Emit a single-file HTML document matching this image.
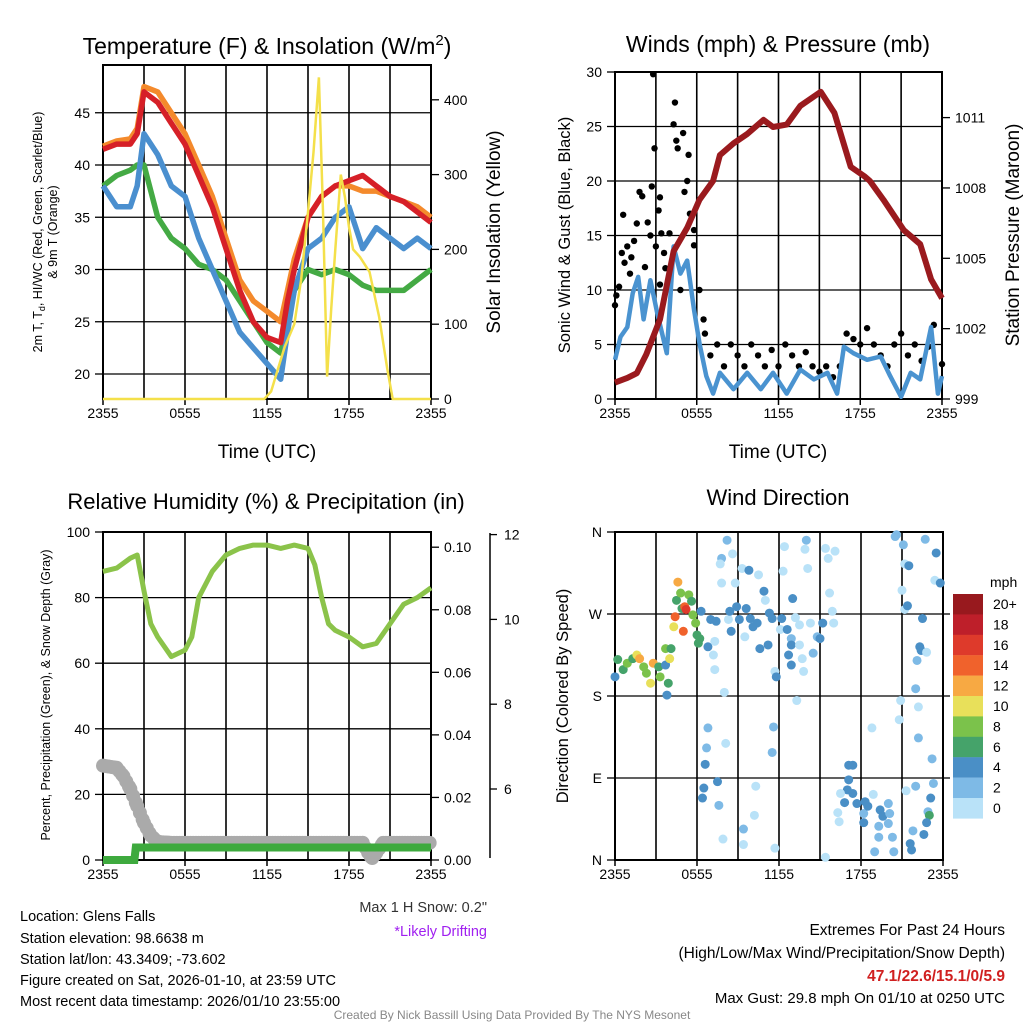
<!DOCTYPE html>
<html><head><meta charset="utf-8"><style>
html,body{margin:0;padding:0;background:#fff;}
svg{display:block;font-family:"Liberation Sans",Arial,sans-serif;}
</style></head><body>
<svg id="fig" width="1024" height="1024" viewBox="0 0 1024 1024" xmlns="http://www.w3.org/2000/svg">
<rect width="1024" height="1024" fill="#fff"/>
<g id="p1"></g>
<g id="p2"></g>
<g id="p3"></g>
<g id="p4"></g>
<g id="txt">
<text x="267" y="54" font-size="23" text-anchor="middle">Temperature (F) &amp; Insolation (W/m<tspan dy="-9" font-size="15">2</tspan><tspan dy="9">)</tspan></text>
<text x="778" y="52" font-size="23" text-anchor="middle">Winds (mph) &amp; Pressure (mb)</text>
<text x="266" y="509" font-size="22" text-anchor="middle">Relative Humidity (%) &amp; Precipitation (in)</text>
<text x="778" y="505" font-size="22" text-anchor="middle">Wind Direction</text>
<text x="267" y="458" font-size="19" text-anchor="middle">Time (UTC)</text>
<text x="778" y="458" font-size="19" text-anchor="middle">Time (UTC)</text>
<text transform="translate(42,232) rotate(-90)" font-size="12.5" text-anchor="middle">2m T, T<tspan font-size="9" dy="3">d</tspan><tspan dy="-3">, HI/WC (Red, Green, Scarlet/Blue)</tspan></text>
<text transform="translate(57,232) rotate(-90)" font-size="12.5" text-anchor="middle">&amp; 9m T (Orange)</text>
<text transform="translate(500,232) rotate(-90)" font-size="19" text-anchor="middle">Solar Insolation (Yellow)</text>
<text transform="translate(570,235) rotate(-90)" font-size="16.5" text-anchor="middle">Sonic Wind &amp; Gust (Blue, Black)</text>
<text transform="translate(1019,235) rotate(-90)" font-size="19" text-anchor="middle">Station Pressure (Maroon)</text>
<text transform="translate(50,695) rotate(-90)" font-size="12.5" text-anchor="middle">Percent, Precipitation (Green), &amp; Snow Depth (Gray)</text>
<text transform="translate(568,696) rotate(-90)" font-size="16.5" text-anchor="middle">Direction (Colored By Speed)</text>
<text x="487" y="912" font-size="14.5" fill="#333" text-anchor="end">Max 1 H Snow: 0.2"</text>
<text x="487" y="936" font-size="14.5" fill="#a020f0" text-anchor="end">*Likely Drifting</text>
<text x="20" y="921" font-size="14.5">Location: Glens Falls</text>
<text x="20" y="943" font-size="14.5">Station elevation: 98.6638 m</text>
<text x="20" y="964" font-size="14.5">Station lat/lon: 43.3409; -73.602</text>
<text x="20" y="985" font-size="14.5">Figure created on Sat, 2026-01-10, at 23:59 UTC</text>
<text x="20" y="1006" font-size="14.5">Most recent data timestamp: 2026/01/10 23:55:00</text>
<text x="1005" y="935" font-size="15.5" text-anchor="end">Extremes For Past 24 Hours</text>
<text x="1005" y="958" font-size="15.5" text-anchor="end">(High/Low/Max Wind/Precipitation/Snow Depth)</text>
<text x="1005" y="981" font-size="15.5" font-weight="bold" fill="#d02020" text-anchor="end">47.1/22.6/15.1/0/5.9</text>
<text x="1005" y="1003" font-size="15" text-anchor="end">Max Gust: 29.8 mph On 01/10 at 0250 UTC</text>
<text x="512" y="1019" font-size="12" fill="#888" text-anchor="middle">Created By Nick Bassill Using Data Provided By The NYS Mesonet</text>
</g>
</svg>
<script>
// ---- data ----
const timeLabels = ["2355","0555","1155","1755","2355"];
const tempHours = [0,1,2,2.5,3,4,5,6,7,8,9,10,11,12,13,13.5,14,15,16,17,18,19,20,21,22,23,24];
const tempRed =    [41.5,42,42,43,47,46,44,42,39,36,32,28,25,23.5,23,27,30,35,37,38,38.5,39,38,37,36.5,35.5,34.5];
const tempOrange = [41.8,42.3,42.5,43.5,47.5,47,45,43,40,37,33,29,27,26,25,28,31,35,37,38,38,37.5,37.5,37,36.5,36,35];
const tempBlue =   [38,36,36,38,43,41,38,37,33,30,27,24,22.5,21,19.5,24,28,32,33,35,36,32,34,33,32,33,32];
const tempGreen =  [38,39,39.5,40,40,35,33,32,30.5,30,29,27,25,23,22,25,28,30,29.5,30,29.5,28.5,28,28,28,29,30];
const solarHours = [0,11.8,12.3,12.8,13.3,14,14.5,15,15.4,15.8,16.1,16.4,16.7,17,17.4,17.7,18,18.3,18.8,19.5,20.2,20.8,21.2,24];
const solarVals  = [0,0,10,40,70,100,160,250,330,430,250,30,120,200,300,270,230,200,190,170,110,40,0,0];
const presHours = [0,0.9,1.6,2.3,3.3,4.3,5.3,6.2,7.2,7.7,8.7,9.7,10.9,11.6,12.6,13.6,15.1,16.1,17.3,18.3,18.7,19.7,21.2,22.4,23.2,24];
const presVals  = [999.7,999.9,1000.1,1000.9,1002.4,1005.3,1006.3,1007.5,1008.3,1009.4,1009.9,1010.3,1010.9,1010.6,1010.7,1011.5,1012.1,1011.2,1008.9,1008.5,1008.3,1007.5,1006.2,1005.6,1004.1,1003.3];
const windHours = [0,0.4,0.9,1.3,1.7,2.1,2.6,3.1,3.8,4.3,4.8,5.3,5.8,6.2,6.7,7.2,7.7,8.7,9.7,10.7,11.6,12.6,13.6,14.6,15.6,16.3,16.8,17.5,18.5,19.5,20.2,21,21.7,22.4,23.2,23.7,24];
const windVals  = [3.6,5.7,6.6,9.7,11.2,7.3,10.9,7.9,4.2,14,11.5,12.7,8.2,5.1,2.1,0.5,2.4,0.9,2.4,0.9,2.4,0.5,2.7,1.8,2.4,0.5,4.8,4.2,3.6,3.9,2.1,0.2,2.4,1.8,6.6,0.5,2.1];
const gustHours = [2.8,2.9,4.4,4.3,4.5,4.6,5.0,5.4,5.3,5.1,2.7,1.8,0.6,1.6,3.2,3.3,5.5,5.8,5.8,0,0.3,0.5,0.9,1.2,1.1,2.2,2.4,3.4,4,3.6,3.3,6.2,6.5,6.6,0.1,0.7,1.4,2.0,2.6,3.0,3.7,4.8,7,7.5,8,8.5,9,9.5,10,10.5,11,11.5,12,12.5,13,13.5,14,14.5,15,15.5,16,16.5,17,17.5,18,18.5,19,19.5,20,20.5,21,21.5,22,22.5,23,23.4,24];
const gustVals  = [29.8,23,27.2,25.2,23.7,23,24.4,22.4,20,19,19.5,19,16.9,16.1,17.3,18.5,17,15.5,14.1,8.6,10.3,13.4,14,13,11.5,12.1,16.2,15.2,15.2,13.4,10.5,10,7.3,6,9.5,12.5,14.5,18.6,15,14,12,10,4,5,3,5,4,3,5,4,3,4.5,3,5,4,3,4.3,3,2.5,3,2,3,6,5.5,5,6.5,5,4,3,5,6,4,5,3.5,4.8,6.8,3.2];
const rhHours = [0,1,2,2.5,3,3.5,4,5,6,6.5,7,8,9,10,11,12,13,14,15,15.5,16,16.5,17,18,19,20,21,22,23,24];
const rhVals  = [88,89,92,93,82,72,68,62,64,68,80,88,93,95,96,96,95,96,95,90,80,72,70,68,65,66,72,78,80,83];
const precipHours = [0,2.3,2.4,24];
const precipVals  = [0,0,0.004,0.004];
const snowHours = [0,1,1.5,2,2.5,3,3.5,4,5,19,19.4,19.7,20,20.5,24];
const snowVals  = [6.55,6.5,6.3,6.0,5.6,5.2,4.9,4.75,4.73,4.73,4.5,4.35,4.5,4.73,4.73];
const dirHours = [0,0.2,0.6,0.9,1.3,1.6,1.8,2.1,2.3,2.6,2.8,3.2,3.3,3.7,3.8,3.7,4.1,4.0,3.9,4.3,4.4,4.5,4.6,4.8,4.9,5.0,5.1,5.2,5.4,5.6,5.7,5.9,6.0,6.1,6.2,
 6.3,7.0,7.4,6.8,7.3,7.2,7.3,8.0,7.8,7.7,8.2,8.6,8.8,7.8,8.3,8.4,8.5,8.9,9.1,9.3,9.8,9.6,9.5,9.9,10.1,10.4,10.5,10.9,11.0,10.6,11.2,11.3,11.5,11.7,11.8,12.1,12.2,12.4,12.3,12.6,12.9,12.9,12.7,12.9,13.0,13.2,13.5,14.0,13.9,14.1,14.3,13.5,13.7,13.8,14.5,14.8,15.0,15.2,15.4,15.6,16.1,15.7,15.9,16.0,13.3,
 6.8,6.7,6.6,6.5,6.4,7.5,7.6,8.1,7.9,9.4,9.4,10.3,10.2,11.6,11.5,11.7,15.4,
 17.1,17.4,17.1,17.0,17.4,16.8,16.5,16.3,16.4,17.7,18.2,18.3,18.5,18.2,18.9,18.8,19.3,19.4,19.6,20.0,20.1,20.0,20.3,20.4,19.0,19.3,20.5,20.6,21.1,21.2,21.5,21.0,21.2,21.4,22.7,23.5,23.4,23.8,22.5,22.3,22.4,22.8,22.1,22.0,20.9,22.2,20.8,22.2,23.2,23.3,22.0,21.3,23.1,22.9,23.0,22.8,21.8,22.6,21.6,21.7];
const dirDeg = [201,220,209,216,221,225,221,212,205,194,216,212,201,214,181,232,232,221,194,256,267,285,305,293,276,251,278,275,291,284,269,260,247,238,243,
 273,264,262,234,240,225,209,184,331,325,351,336,304,304,264,273,251,278,264,320,318,276,245,265,256,260,313,295,285,232,236,271,265,207,201,253,265,344,317,253,243,236,225,214,287,266,258,351,341,320,260,236,221,207,227,245,243,260,342,331,339,293,273,260,175,
 145,123,105,79,68,86,60,128,23,34,17,81,49,146,118,13,3,
 104,104,88,77,73,63,73,52,42,62,51,64,59,41,72,145,37,55,48,62,51,40,25,9,9,25,355,357,346,325,323,296,275,279,352,337,307,304,265,234,230,228,219,188,175,168,154,134,111,84,81,76,68,53,49,41,32,28,18,11];
const dirSpeed = [4,6,6,8,6,10,12,8,8,10,12,6,8,4,4,8,6,10,6,10,14,6,12,8,6,14,14,16,8,6,8,8,6,6,6,
 4,4,4,4,0.5,0.5,0.5,0.5,2,0.5,2,0.5,0.5,0.5,0.5,4,4,4,4,0.5,4,4,0.5,4,4,4,0.5,4,0.5,4,4,4,4,0.5,4,0.5,4,0.5,0.5,4,2,4,4,4,4,0.5,0.5,2,0.5,0.5,0.5,0.5,0.5,0.5,2,2,4,4,0.5,0.5,0.5,0.5,0.5,0.5,0.5,
 2,2,4,4,4,4,2,0.5,0.5,2,0.5,0.5,0.5,2,2,0.5,0.5,
 4,4,4,4,4,4,0.5,0.5,0.5,4,2,4,4,4,0.5,0.5,2,4,4,2,2,2,2,2,2,2,2,2,2,0.5,4,0.5,0.5,4,2,4,0.5,4,4,4,4,0.5,2,2,0.5,0.5,0.5,2,2,2,2,0.5,4,2,6,4,2,4,4,4];
const cbLabels = ["20+","18","16","14","12","10","8","6","4","2","0"];
const cbColors = ["#98191e","#be1f2a","#de3a2b","#f0622c","#f7a943","#e8e05a","#7bc24b","#45a36a","#4a8fc6","#7ebae6","#b9e2f8"];

// ---- helpers ----
const NS="http://www.w3.org/2000/svg";
function mk(parent,tag,attrs){const e=document.createElementNS(NS,tag);for(const k in attrs)e.setAttribute(k,attrs[k]);parent.appendChild(e);return e;}
function speedColor(s){if(s>=20)return cbColors[0];const i=10-Math.floor(s/2);return cbColors[Math.max(0,Math.min(10,i))];}
function pathFrom(xs,ys,fx,fy){return xs.map((h,i)=>(i?"L":"M")+fx(h).toFixed(1)+","+fy(ys[i]).toFixed(1)).join("");}

function frame(g,x0,x1,y0,y1,hGrid,fy){
  for(let h=0;h<=24;h+=3){const x=x0+h*(x1-x0)/24;
    const l=mk(g,"line",{x1:x,x2:x,y1:y0,y2:y1,stroke:"#000","stroke-width":1.6});
    
    }
  hGrid.forEach(v=>{const y=fy(v);
    const l=mk(g,"line",{x1:x0,x2:x1,y1:y,y2:y,stroke:"#000","stroke-width":1.3});
    
    });
  const r=mk(g,"rect",{x:x0,y:y0,width:x1-x0,height:y1-y0,fill:"none",stroke:"#000","stroke-width":2});
  
  
  timeLabels.forEach((t,i)=>{const x=x0+i*6*(x1-x0)/24;
    mk(g,"line",{x1:x,x2:x,y1:y1,y2:y1+6,stroke:"#000","stroke-width":1.5});
    const tx=mk(g,"text",{x:x,y:y1+19,"font-size":14,"text-anchor":"middle"});tx.textContent=t;
    
    });
}
function leftTicks(g,x0,vals,fy,labels){vals.forEach((v,i)=>{const y=fy(v);
  mk(g,"line",{x1:x0-8,x2:x0,y1:y,y2:y,stroke:"#000","stroke-width":1.3});
  const t=mk(g,"text",{x:x0-13,y:y+5,"font-size":14,"text-anchor":"end"});t.textContent=labels?labels[i]:v;
  
  });}
function rightTicks(g,x1,vals,fy,labels){vals.forEach((v,i)=>{const y=fy(v);
  mk(g,"line",{x1:x1,x2:x1+8,y1:y,y2:y,stroke:"#000","stroke-width":1.3});
  const t=mk(g,"text",{x:x1+13,y:y+5,"font-size":14,"text-anchor":"start"});t.textContent=labels?labels[i]:v;
  
  });}

// ---- panel 1 ----
(function(){
  const g=document.getElementById("p1");const x0=103,x1=431,y0=65,y1=399;
  const fx=h=>x0+h*(x1-x0)/24, fy=v=>374-(v-20)*10.45, fs=w=>399-w*0.748;
  frame(g,x0,x1,y0,y1,[20,25,30,35,40,45],fy);
  leftTicks(g,x0,[20,25,30,35,40,45],fy);
  rightTicks(g,x1,[0,100,200,300,400],fs);
  const series=[[tempGreen,"#44aa44","dewpoint-line"],[tempBlue,"#4a8fcf","windchill-line"],[tempOrange,"#f48a2c","temp-9m-line"],[tempRed,"#d62028","temp-2m-line"]];
  series.forEach(s=>{const p=mk(g,"path",{d:pathFrom(tempHours,s[0],fx,fy),fill:"none",stroke:s[1],"stroke-width":5.5,"stroke-linejoin":"round"});
    
    });
  const sp=mk(g,"path",{d:pathFrom(solarHours,solarVals,fx,fs),fill:"none",stroke:"#f4e04a","stroke-width":2.5});
  
  
})();

// ---- panel 2 ----
(function(){
  const g=document.getElementById("p2");const x0=615,x1=942,y0=72,y1=399;
  const fx=h=>x0+h*(x1-x0)/24, fy=v=>399-v*10.9, fp=p=>399-(p-999)*23.45;
  frame(g,x0,x1,y0,y1,[5,10,15,20,25],fy);
  leftTicks(g,x0,[0,5,10,15,20,25,30],fy);
  rightTicks(g,x1,[999,1002,1005,1008,1011],fp);
  gustHours.forEach((h,i)=>{const c=mk(g,"circle",{cx:fx(h),cy:fy(gustVals[i]),r:3.2,fill:"#000"});
    
    });
  const w=mk(g,"path",{d:pathFrom(windHours,windVals,fx,fy),fill:"none",stroke:"#4a93d0","stroke-width":4.5,"stroke-linejoin":"round"});
  
  
  const p=mk(g,"path",{d:pathFrom(presHours,presVals,fx,fp),fill:"none",stroke:"#9a1a1e","stroke-width":6,"stroke-linejoin":"round"});
  
  
})();

// ---- panel 3 ----
(function(){
  const g=document.getElementById("p3");const x0=103,x1=431,y0=532,y1=860;
  const fx=h=>x0+h*(x1-x0)/24, fy=v=>860-v*3.28, fpr=v=>860-v*3128, fsn=s=>789-(s-6)*42.4;
  frame(g,x0,x1,y0,y1,[20,40,60,80],fy);
  leftTicks(g,x0,[0,20,40,60,80,100],fy);
  rightTicks(g,x1,[0,0.02,0.04,0.06,0.08,0.10],fpr,["0.00","0.02","0.04","0.06","0.08","0.10"]);
  const ax=mk(g,"line",{x1:490,x2:490,y1:533,y2:858,stroke:"#000","stroke-width":1.5});
  
  
  [6,8,10,12].forEach(s=>{const y=fsn(s);mk(g,"line",{x1:490,x2:497,y1:y,y2:y,stroke:"#000","stroke-width":1.3});
    const t=mk(g,"text",{x:504,y:y+5,"font-size":14});t.textContent=s;
    
    });
  for(let k=0;k<snowHours.length-1;k++){const a=snowHours[k],b=snowHours[k+1];
    for(let h=a;h<b;h+=0.2){const v=snowVals[k]+(snowVals[k+1]-snowVals[k])*(h-a)/(b-a);
      const c=mk(g,"circle",{cx:fx(h),cy:Math.min(fsn(v),858),r:7,fill:"#aaa"});
      
      }}
  const pr=mk(g,"path",{d:pathFrom(precipHours,precipVals,fx,fpr),fill:"none",stroke:"#3eaa3e","stroke-width":8});
  
  
  const rh=mk(g,"path",{d:pathFrom(rhHours,rhVals,fx,fy),fill:"none",stroke:"#8bc34a","stroke-width":5,"stroke-linejoin":"round"});
  
  
})();

// ---- panel 4 ----
(function(){
  const g=document.getElementById("p4");const x0=615,x1=943,y0=532,y1=860;
  const fx=h=>x0+h*(x1-x0)/24, fy=d=>860-d*(y1-y0)/360;
  frame(g,x0,x1,y0,y1,[90,180,270],fy);
  leftTicks(g,x0,[0,90,180,270,360],fy,["N","E","S","W","N"]);
  [90,180,270].forEach(d=>mk(g,"line",{x1:x1,x2:x1+7,y1:fy(d),y2:fy(d),stroke:"#000","stroke-width":1.3}));
  dirHours.forEach((h,i)=>{const c=mk(g,"circle",{cx:fx(h),cy:fy(dirDeg[i]),r:4.5,fill:speedColor(dirSpeed[i])});
    
    });
  const t=mk(g,"text",{x:990,y:587,"font-size":14});t.textContent="mph";
  
  
  cbColors.forEach((c,i)=>{const y=594+i*20.4;
    const r=mk(g,"rect",{x:953,y:y,width:30,height:20.6,fill:c});
    
    
    const l=mk(g,"text",{x:993,y:y+15,"font-size":14});l.textContent=cbLabels[i];
    
    });
})();
</script>
</body></html>
